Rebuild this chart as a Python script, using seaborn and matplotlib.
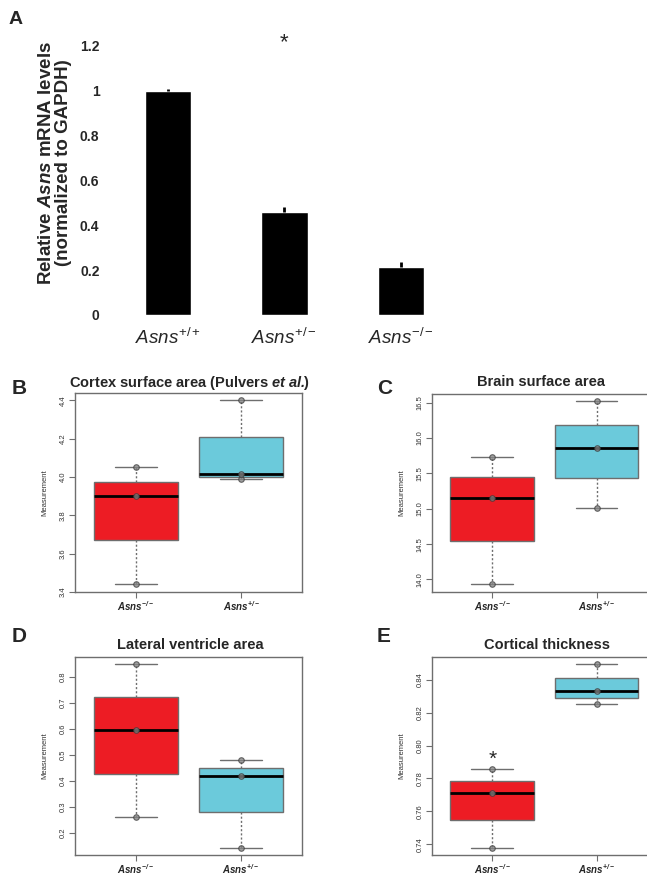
import numpy as np
import pandas as pd
import matplotlib
matplotlib.use("Agg")
import matplotlib.pyplot as plt
import seaborn as sns

# panel A: qPCR, mean +/- err
a_groups = ["+/+", "+/-", "-/-"]
a_labels = [r"$\mathit{Asns^{+/+}}$", r"$\mathit{Asns^{+/-}}$", r"$\mathit{Asns^{-/-}}$"]
mrna_mean = [1.0, 0.46, 0.215]
mrna_err = [0.008, 0.022, 0.02]
a_ticks = [0, 0.2, 0.4, 0.6, 0.8, 1.0, 1.2]
a_tick_labels = ["0", "0.2", "0.4", "0.6", "0.8", "1", "1.2"]

# panels B-E: three animals per genotype
box_labels = [r"$\mathbfit{Asns^{-/-}}$", r"$\mathbfit{Asns^{+/-}}$"]
cortex_ko = [3.44, 3.90, 4.05]
cortex_het = [3.99, 4.015, 4.40]
brain_ko = [13.93, 15.15, 15.735]
brain_het = [15.015, 15.855, 16.52]
ventricle_ko = [0.26, 0.595, 0.85]
ventricle_het = [0.144, 0.419, 0.48]
thickness_ko = [0.738, 0.771, 0.786]
thickness_het = [0.825, 0.833, 0.8495]

cortex_ticks = [3.4, 3.6, 3.8, 4.0, 4.2, 4.4]
brain_ticks = [14.0, 14.5, 15.0, 15.5, 16.0, 16.5]
ventricle_ticks = [0.2, 0.3, 0.4, 0.5, 0.6, 0.7, 0.8]
thickness_ticks = [0.74, 0.76, 0.78, 0.80, 0.82, 0.84]

RED = "#ED1C24"
CYAN = "#6BCADB"
GREY = "#6e6e6e"

sns.set_style("white")
plt.rcParams["font.family"] = ["Liberation Sans", "DejaVu Sans"]
plt.rcParams["mathtext.fontset"] = "custom"
plt.rcParams["mathtext.rm"] = "Liberation Sans"
plt.rcParams["mathtext.it"] = "Liberation Sans:italic"
plt.rcParams["mathtext.bf"] = "Liberation Sans:bold"
plt.rcParams["mathtext.bfit"] = "Liberation Sans:bold:italic"

W, H = 647, 875
fig = plt.figure(figsize=(W / 100, H / 100), dpi=100)


def rect(l, t, r, b):
    return [l / W, 1 - b / H, (r - l) / W, (b - t) / H]


# ---- A ----
axA = fig.add_axes(rect(105, 19, 465, 315))
dfa = pd.DataFrame({"genotype": a_groups, "level": mrna_mean})
sns.barplot(data=dfa, x="genotype", y="level", color="black", saturation=1,
            width=0.4, errorbar=None, ax=axA)
axA.errorbar(range(len(mrna_mean)), mrna_mean, yerr=[np.zeros(len(mrna_err)), mrna_err],
             fmt="none", ecolor="black", elinewidth=2, capsize=0)
axA.set_ylim(0, 1.32)
axA.set_xlim(-0.54, 2.55)
axA.set_yticks(a_ticks)
axA.set_yticklabels(a_tick_labels, fontsize=10, fontweight="bold",
                    family=["Liberation Sans Narrow", "Liberation Sans"])
axA.set_xticks(range(3))
axA.set_xticklabels(a_labels, fontsize=13.5)
axA.tick_params(axis="y", length=0, pad=4)
axA.tick_params(axis="x", length=0, pad=9)
axA.set_xlabel("")
axA.set_ylabel("")
for s in axA.spines.values():
    s.set_visible(False)
axA.text(1, 1.19, "*", ha="center", va="baseline", fontsize=16)

fig.text(55 / W, 1 - 163 / H,
         "Relative $\\mathbfit{Asns}$ mRNA levels\n(normalized to GAPDH)",
         rotation=90, ha="center", va="center", multialignment="center",
         fontsize=13.5, fontweight="bold", linespacing=1.0)
fig.text(16 / W, 1 - 19 / H, "A", ha="center", va="center", fontsize=14, fontweight="bold")


# ---- B-E ----
def box_panel(ax, ko, het, ticks, fmt):
    df = pd.DataFrame({"genotype": ["-/-"] * len(ko) + ["+/-"] * len(het),
                       "value": ko + het})
    sns.boxplot(data=df, x="genotype", y="value", hue="genotype", palette=[RED, CYAN],
                legend=False, width=0.8, whis=(0, 100), showfliers=False, saturation=1,
                linecolor=GREY, linewidth=1.0,
                medianprops=dict(color="black", linewidth=2),
                whiskerprops=dict(linestyle=(0, (1.5, 1.5))), ax=ax)
    sns.stripplot(data=df, x="genotype", y="value", jitter=False, color="#858585",
                  edgecolor="#3a3a3a", linewidth=0.8, size=4, alpha=0.75, ax=ax)
    vals = ko + het
    lo, hi = min(vals), max(vals)
    pad = 0.04 * (hi - lo)
    ax.set_ylim(lo - pad, hi + pad)
    ax.set_xlim(-0.58, 1.58)
    ax.set_yticks(ticks)
    ax.set_yticklabels([fmt.format(t) for t in ticks], fontsize=5.5, color="#333333",
                       rotation=90, va="center")
    ax.set_xticks([0, 1])
    ax.set_xticklabels(box_labels, fontsize=7)
    ax.tick_params(axis="both", direction="out", length=4, width=0.8, color=GREY,
                   bottom=True, left=True)
    ax.tick_params(axis="y", pad=2)
    ax.tick_params(axis="x", pad=1.5)
    ax.set_xlabel("")
    ax.set_ylabel("Measurement", fontsize=5.5, color="#333333", labelpad=8)
    for s in ax.spines.values():
        s.set_visible(True)
        s.set_color(GREY)
        s.set_linewidth(1.0)


axB = fig.add_axes(rect(75, 393, 302, 592))
box_panel(axB, cortex_ko, cortex_het, cortex_ticks, "{:.1f}")
axC = fig.add_axes(rect(431.7, 394, 657, 591.7))
box_panel(axC, brain_ko, brain_het, brain_ticks, "{:.1f}")
axD = fig.add_axes(rect(75, 656.7, 301.7, 855))
box_panel(axD, ventricle_ko, ventricle_het, ventricle_ticks, "{:.1f}")
axE = fig.add_axes(rect(431.7, 656.7, 657, 855))
box_panel(axE, thickness_ko, thickness_het, thickness_ticks, "{:.2f}")
axE.text(0, max(thickness_ko) + 0.002, "*", ha="center", va="baseline", fontsize=15)

titles = [
    (189, 383, "Cortex surface area (Pulvers $\\mathbfit{et\\ al.}\\!\\!\\mathbf{)}$"),
    (541, 382, "Brain surface area"),
    (190, 645, "Lateral ventricle area"),
    (547, 645, "Cortical thickness"),
]
for x, y, t in titles:
    fig.text(x / W, 1 - y / H, t, ha="center", va="center", fontsize=10.5, fontweight="bold")

for x, y, t in [(19, 388, "B"), (385, 388, "C"), (19, 637, "D"), (384, 637, "E")]:
    fig.text(x / W, 1 - y / H, t, ha="center", va="center", fontsize=15, fontweight="bold")

fig.savefig("out.png", dpi=100)
